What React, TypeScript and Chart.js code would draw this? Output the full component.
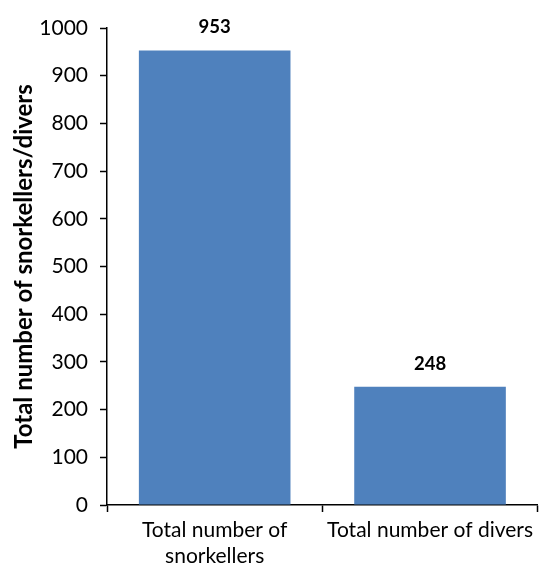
import React, { useEffect, useRef } from "react";
import { Chart, registerables } from "chart.js";

Chart.register(...registerables);

const categories: (string | string[])[] = [["Total number of", "snorkellers"], "Total number of divers"];
const totals: number[] = [953, 248];
const yTicks: number[] = [0, 100, 200, 300, 400, 500, 600, 700, 800, 900, 1000];

const FONT = "Lato, 'DejaVu Sans', sans-serif";

const valueLabels = {
  id: "valueLabels",
  afterDatasetsDraw(chart: any) {
    const ctx = chart.ctx;
    const meta = chart.getDatasetMeta(0);
    ctx.save();
    ctx.font = `bold 18.5px ${FONT}`;
    ctx.fillStyle = "#000";
    ctx.textAlign = "center";
    ctx.textBaseline = "middle";
    meta.data.forEach((bar: any, i: number) => {
      ctx.fillText(String(totals[i]), bar.x, bar.y - 23);
    });
    ctx.restore();
  },
};

export default function App() {
  const ref = useRef<HTMLCanvasElement | null>(null);

  useEffect(() => {
    if (!ref.current) return;
    const chart = new Chart(ref.current, {
      type: "bar",
      data: {
        labels: categories,
        datasets: [
          {
            data: totals,
            backgroundColor: "#4F81BD",
            barPercentage: 0.704,
            categoryPercentage: 1,
          },
        ],
      },
      options: {
        animation: false,
        responsive: false,
        maintainAspectRatio: false,
        layout: { padding: { top: 28, right: -2, left: 0, bottom: 0 } },
        plugins: { legend: { display: false }, tooltip: { enabled: false } },
        scales: {
          x: {
            offset: true,
            grid: {
              display: true,
              offset: true,
              drawOnChartArea: false,
              drawTicks: true,
              tickLength: 7,
              tickColor: "#000",
              tickWidth: 1.5,
            },
            border: { display: true, color: "#000", width: 1.5 },
            ticks: {
              color: "#000",
              font: { family: FONT, size: 21, lineHeight: 1.2 },
              maxRotation: 0,
              autoSkip: false,
              padding: 6,
            },
            afterFit(scale: any) {
              scale.height = 60;
            },
          },
          y: {
            min: 0,
            max: 1000,
            afterBuildTicks(scale: any) {
              scale.ticks = yTicks.map((v) => ({ value: v }));
            },
            grid: {
              display: true,
              drawOnChartArea: false,
              drawTicks: true,
              tickLength: 7,
              tickColor: "#000",
              tickWidth: 1.5,
            },
            border: { display: true, color: "#000", width: 1.5 },
            ticks: {
              color: "#000",
              font: { family: FONT, size: 21 },
              padding: 12,
              callback: (v: any) => String(v),
            },
            title: {
              display: true,
              text: "Total number of snorkellers/divers",
              color: "#000",
              font: { family: FONT, size: 24, weight: "bold" },
              padding: { top: 10, bottom: 0 },
            },
            afterFit(scale: any) {
              scale.width = 107;
            },
          },
        },
      },
      plugins: [valueLabels],
    });
    return () => chart.destroy();
  }, []);

  return (
    <div style={{ position: "absolute", left: 0, top: 0, width: 539, height: 565, background: "#fff" }}>
      <canvas ref={ref} width={539} height={565} style={{ display: "block" }} />
    </div>
  );
}
